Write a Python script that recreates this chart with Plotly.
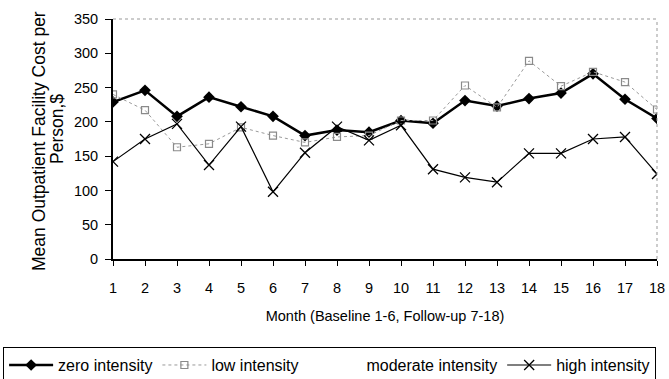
import plotly.graph_objects as go

months = list(range(1, 19))
zero_intensity = [229, 246, 208, 236, 222, 208, 180, 188, 185, 202, 198, 231, 223, 234, 242, 270, 233, 205]
low_intensity = [240, 217, 163, 168, 192, 180, 170, 178, 180, 202, 202, 253, 221, 289, 252, 273, 258, 218]
moderate_intensity = [None] * 18
high_intensity = [142, 175, 197, 137, 193, 98, 155, 193, 173, 195, 131, 119, 112, 154, 154, 175, 178, 124]

font = "Liberation Sans, Arial, sans-serif"
NB = "\u00a0"

fig = go.Figure()
fig.add_trace(go.Scatter(x=months, y=zero_intensity, name="zero intensity", mode="lines+markers",
                         line=dict(color="black", width=2.5),
                         marker=dict(symbol="diamond", size=9, color="black")))
fig.add_trace(go.Scatter(x=months, y=low_intensity, name="low intensity" + NB * 2, mode="lines+markers",
                         line=dict(color="#9a9a9a", width=1, dash="dot"),
                         marker=dict(symbol="square-open", size=7, color="#8a8a8a", line=dict(width=1.2))))
fig.add_trace(go.Scatter(x=months, y=moderate_intensity, name="moderate intensity", mode="lines",
                         line=dict(color="white", width=1)))
fig.add_trace(go.Scatter(x=months, y=high_intensity, name="high intensity", mode="lines+markers",
                         line=dict(color="black", width=1.2),
                         marker=dict(symbol="x-thin-open", size=10, color="black", line=dict(width=1.3, color="black"))))

fig.update_layout(
    width=669, height=379,
    margin=dict(l=113, r=12, t=19, b=120, autoexpand=False),
    paper_bgcolor="white", plot_bgcolor="white",
    font=dict(family=font, size=14.5, color="black"),
    xaxis=dict(range=[1, 18], tickmode="array", tickvals=months, ticktext=[str(m) for m in months],
               showline=True, linecolor="black", linewidth=2, ticks="outside", ticklen=5,
               tickcolor="black", showgrid=False, zeroline=False, tickfont=dict(size=14.5),
               ticklabelstandoff=10,
               title=dict(text="Month (Baseline 1-6, Follow-up 7-18)", font=dict(size=14.5), standoff=15)),
    yaxis=dict(range=[0, 350], tickvals=[0, 50, 100, 150, 200, 250, 300, 350],
               showline=True, linecolor="black", linewidth=2, ticks="outside", ticklen=6,
               tickcolor="black", showgrid=False, zeroline=False, tickfont=dict(size=14.5),
               ticklabelstandoff=4),
    legend=dict(orientation="h", x=-0.202, y=-0.367, xanchor="left", yanchor="top",
                bordercolor="black", borderwidth=1, font=dict(size=16),
                tracegroupgap=0, itemwidth=44),
    showlegend=True,
)
# y-axis title as two rotated lines
fig.add_annotation(text="Mean Outpatient Facility Cost per", textangle=-90, showarrow=False,
                   xref="paper", yref="paper", x=(39 - 113) / 544, y=(259 - 141) / 240,
                   xanchor="center", yanchor="middle", font=dict(size=17.5))
fig.add_annotation(text="Person,$", textangle=-90, showarrow=False,
                   xref="paper", yref="paper", x=(57 - 113) / 544, y=(259 - 129) / 240,
                   xanchor="center", yanchor="middle", font=dict(size=17.5))
# dotted frame on top and right
fig.add_shape(type="line", xref="paper", yref="paper", x0=0, x1=1, y0=1, y1=1,
              line=dict(color="#999999", width=1, dash="dot"))
fig.add_shape(type="line", xref="paper", yref="paper", x0=1, x1=1, y0=0, y1=1,
              line=dict(color="#999999", width=1, dash="dot"))

fig.write_html("out.html")
